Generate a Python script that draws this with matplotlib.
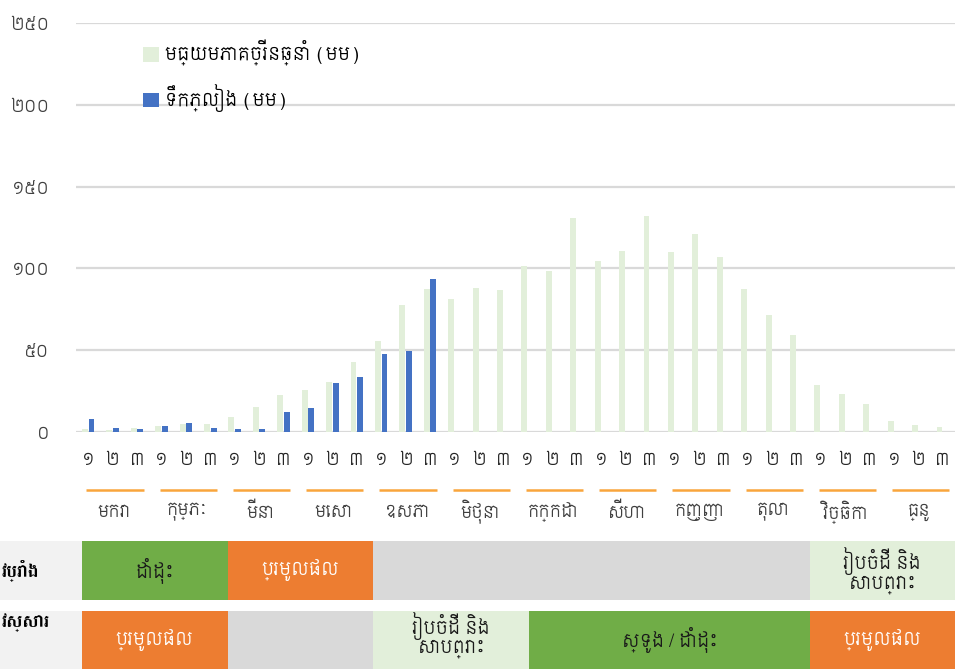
import matplotlib
matplotlib.use("Agg")
import matplotlib.pyplot as plt
import matplotlib.transforms as mtransforms
from matplotlib import font_manager
from matplotlib.patches import Rectangle

# pick installed Khmer fonts
available = {f.name for f in font_manager.fontManager.ttflist}
khmer_font = next((n for n in ['Siemreap', 'Noto Sans Khmer', 'Battambang', 'Hanuman', 'Content']
                   if n in available), 'DejaVu Sans')
bold_font = next((n for n in ['Battambang', 'Content', khmer_font] if n in available), khmer_font)
plt.rcParams['font.family'] = [khmer_font, 'DejaVu Sans']

KH_DIGITS = '០១២៣៤៥៦៧៨៩'


def kh(n):
    return ''.join(KH_DIGITS[int(c)] for c in str(n))


# data
months = ['មករា', 'កុម្ភៈ', 'មីនា', 'មេសា', 'ឧសភា', 'មិថុនា',
          'កក្កដា', 'សីហា', 'កញ្ញា', 'តុលា', 'វិច្ឆិកា', 'ធ្នូ']
dekad_labels = [kh(d) for m in months for d in (1, 2, 3)]
long_term_avg = [2.0, 1.4, 2.2, 3.7, 5.1, 4.7, 9.1, 15.0, 22.4, 25.4, 30.3, 42.9,
                 55.5, 77.8, 87.2, 81.5, 88.0, 86.8, 101.6, 98.4, 130.9, 104.7, 110.6, 132.1,
                 110.0, 121.3, 106.7, 87.4, 71.5, 59.3, 28.9, 23.2, 17.1, 6.5, 4.5, 2.8]
rainfall = [7.7, 2.6, 1.6, 3.7, 5.5, 2.4, 2.0, 2.0, 12.2, 14.4, 29.7, 33.5,
            47.4, 49.4, 93.3]
y_ticks = [0, 50, 100, 150, 200, 250]
legend_labels = ['មធ្យមភាគច្រើនឆ្នាំ (មម)', 'ទឹកភ្លៀង (មម)']

# crop calendar: (start month, end month, label, kind)
season_rows = ['វប្រាំង', 'វស្សារ']
dry_season = [(0, 2, 'ដាំដុះ', 'grow'), (2, 4, 'ប្រមូលផល', 'harvest'),
              (4, 10, '', 'idle'), (10, 12, 'រៀបចំដី និង\nសាបព្រោះ', 'prep')]
wet_season = [(0, 2, 'ប្រមូលផល', 'harvest'), (2, 4, '', 'idle'),
              (4, 6.15, 'រៀបចំដី និង\nសាបព្រោះ', 'prep'), (6.15, 10, 'ស្ទូង / ដាំដុះ', 'grow'),
              (10, 12, 'ប្រមូលផល', 'harvest')]

cell_colors = {'grow': '#70AD47', 'harvest': '#ED7D31', 'idle': '#D9D9D9', 'prep': '#E2EFDA'}
text_colors = {'grow': '#1a1a1a', 'harvest': 'white', 'idle': '#1a1a1a', 'prep': '#1a1a1a'}

W, H = 955, 669
fig = plt.figure(figsize=(W / 100, H / 100), dpi=100)

ax = fig.add_axes([76 / W, (H - 432) / H, (W - 76) / W, (432 - 23) / H])
x = list(range(len(long_term_avg)))
ax.bar([i - 0.135 for i in x], long_term_avg, width=0.24, color='#E2EFDA',
       label=legend_labels[0], zorder=2)
ax.bar([i + 0.135 for i in range(len(rainfall))], rainfall, width=0.24, color='#4472C4',
       label=legend_labels[1], zorder=2)

ax.set_xlim(-0.5, len(x) - 0.5)
ax.set_ylim(0, 250)
ax.set_yticks(y_ticks)
ax.set_yticklabels([kh(v) for v in y_ticks], fontsize=12, color='#404040')
ax.set_xticks(x)
ax.set_xticklabels(dekad_labels, fontsize=12, color='#262626')
ax.tick_params(length=0)
ax.tick_params(axis='x', pad=14)
ax.tick_params(axis='y', pad=19)
ax.grid(axis='y', color='#D9D9D9', linewidth=1.6, zorder=0)
for s in ax.spines.values():
    s.set_visible(False)

# month labels with orange bars under the dekad numbers
trans = mtransforms.blended_transform_factory(ax.transData, fig.transFigure)
for m, name in enumerate(months):
    c = m * 3 + 1.1
    ax.plot([c - 1.17, c + 1.17], [(H - 490) / H] * 2, color='#F9A53C', lw=1.8,
            transform=trans, clip_on=False, solid_capstyle='butt')
    ax.text(c - 0.05, (H - 512) / H, name, transform=trans, ha='center', va='center',
            fontsize=12, color='#404040')

leg = ax.legend(loc='upper left', bbox_to_anchor=(127 / W, 1 - 24 / H),
                bbox_transform=fig.transFigure, frameon=False, fontsize=13,
                handlelength=0.85, handleheight=0.85, labelspacing=1.0, handletextpad=0.35)

# crop calendar table
ax2 = fig.add_axes([0, 0, 1, (H - 541) / H])
x0 = -82 / 72.75
ax2.set_xlim(x0, 12)
ax2.set_ylim(128, 0)
ax2.axis('off')
row_spans = [(0, 59), (70, 128)]
for (top, bottom), name, stages in zip(row_spans, season_rows, [dry_season, wet_season]):
    ax2.add_patch(Rectangle((x0, top), -x0, bottom - top, color='#F2F2F2', lw=0))
    for start, end, label, kind in stages:
        ax2.add_patch(Rectangle((start, top), end - start, bottom - top,
                                color=cell_colors[kind], lw=0))
        if label:
            ty = (top + bottom) / 2 if '\n' not in label or top == 0 else top + 24
            ax2.text((start + end) / 2, ty, label, ha='center', va='center',
                     fontsize=13, color=text_colors[kind], linespacing=0.95)
ax2.text(x0 + 0.02, 29.5, season_rows[0], ha='left', va='center',
         fontsize=13, fontweight='bold', color='black', family=[bold_font, 'DejaVu Sans'])
ax2.text(x0 + 0.02, 82, season_rows[1], ha='left', va='center',
         fontsize=13, fontweight='bold', color='black', family=[bold_font, 'DejaVu Sans'])

fig.savefig('out.png', dpi=100)
